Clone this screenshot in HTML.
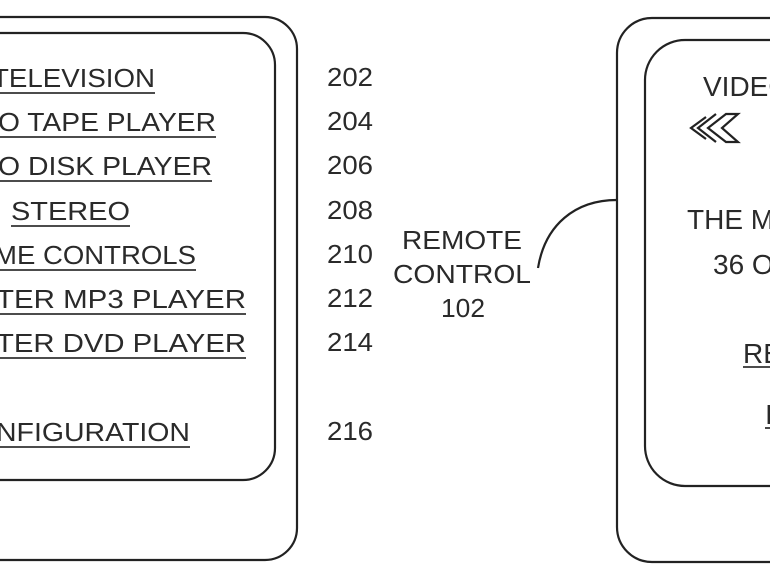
<!DOCTYPE html>
<html><head><meta charset="utf-8"><style>
html,body{margin:0;padding:0;background:#fff;}
svg{display:block;}
text{font-family:"Liberation Sans",Arial,sans-serif;font-size:26px;fill:#2a2a2a;}
.r{font-size:28px;}
</style></head><body>
<svg width="770" height="578" viewBox="0 0 770 578" xmlns="http://www.w3.org/2000/svg">
<g fill="none" stroke="#222" stroke-width="2.2">
<path d="M-40,17 H265 A32,32 0 0 1 297,49 V528 A32,32 0 0 1 265,560 H-40"/>
<path d="M-40,33 H243 A32,32 0 0 1 275,65 V448 A32,32 0 0 1 243,480 H-40"/>
<path d="M810,18 H652 A35,35 0 0 0 617,53 V527 A35,35 0 0 0 652,562 H810"/>
<path d="M810,40 H685 A40,40 0 0 0 645,80 V446 A40,40 0 0 0 685,486 H810"/>
<path d="M538,268 C545,225 575,200 617,200"/>
</g>
<g>
<text x="-8" y="87" textLength="163" lengthAdjust="spacingAndGlyphs">TELEVISION</text>
<text x="-2" y="131" textLength="218" lengthAdjust="spacingAndGlyphs">O TAPE PLAYER</text>
<text x="-2" y="175" textLength="214" lengthAdjust="spacingAndGlyphs">O DISK PLAYER</text>
<text x="11" y="220" textLength="119" lengthAdjust="spacingAndGlyphs">STEREO</text>
<text x="-6" y="264" textLength="202" lengthAdjust="spacingAndGlyphs">ME CONTROLS</text>
<text x="-4" y="308" textLength="250" lengthAdjust="spacingAndGlyphs">TER MP3 PLAYER</text>
<text x="-4" y="352" textLength="250" lengthAdjust="spacingAndGlyphs">TER DVD PLAYER</text>
<text x="-4" y="441" textLength="194" lengthAdjust="spacingAndGlyphs">NFIGURATION</text>
</g>
<g stroke="#333" stroke-width="1.8">
<line x1="0" y1="93" x2="155" y2="93"/>
<line x1="0" y1="137" x2="216" y2="137"/>
<line x1="0" y1="181" x2="212" y2="181"/>
<line x1="11" y1="226" x2="130" y2="226"/>
<line x1="0" y1="270" x2="196" y2="270"/>
<line x1="0" y1="314" x2="246" y2="314"/>
<line x1="0" y1="358" x2="246" y2="358"/>
<line x1="0" y1="447" x2="190" y2="447"/>
<line x1="743" y1="367" x2="770" y2="367"/>
<line x1="765" y1="428" x2="770" y2="428"/>
</g>
<g>
<text x="327" y="86" textLength="46" lengthAdjust="spacingAndGlyphs">202</text>
<text x="327" y="130" textLength="46" lengthAdjust="spacingAndGlyphs">204</text>
<text x="327" y="174" textLength="46" lengthAdjust="spacingAndGlyphs">206</text>
<text x="327" y="219" textLength="46" lengthAdjust="spacingAndGlyphs">208</text>
<text x="327" y="263" textLength="46" lengthAdjust="spacingAndGlyphs">210</text>
<text x="327" y="307" textLength="46" lengthAdjust="spacingAndGlyphs">212</text>
<text x="327" y="351" textLength="46" lengthAdjust="spacingAndGlyphs">214</text>
<text x="327" y="440" textLength="46" lengthAdjust="spacingAndGlyphs">216</text>
</g>
<text x="402" y="249" textLength="120" lengthAdjust="spacingAndGlyphs">REMOTE</text>
<text x="393" y="283" textLength="138" lengthAdjust="spacingAndGlyphs">CONTROL</text>
<text x="441" y="317" textLength="44" lengthAdjust="spacingAndGlyphs">102</text>
<text class="r" x="703" y="96">VIDEO</text>
<text class="r" x="687" y="229">THE MOVIE</text>
<text class="r" x="713" y="274">36 OF</text>
<text class="r" x="743" y="363">RE</text>
<text class="r" x="765" y="424">I</text>
<g fill="none" stroke="#222" stroke-width="2.2" stroke-linejoin="miter">
<path d="M706,117 L691,128 L706,139"/>
<path d="M716,114 L698,128 L716,142"/>
<path d="M726,114 L708,128 L726,142 L738,142 L722,128 L738,114 Z"/>
</g>
</svg>
</body></html>
